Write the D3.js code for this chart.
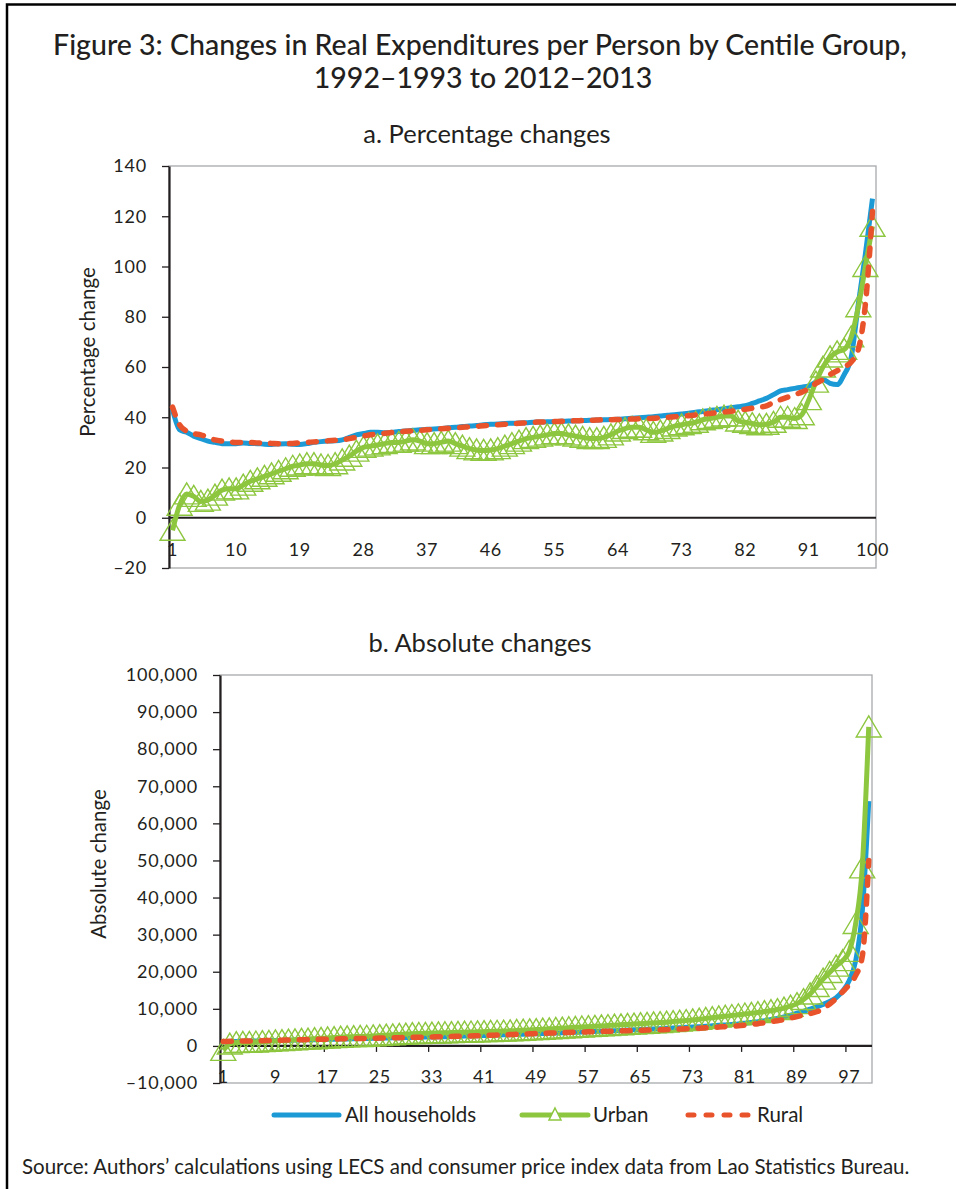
<!DOCTYPE html>
<html>
<head>
<meta charset="utf-8">
<script src="https://cdn.jsdelivr.net/npm/d3@7"></script>
<style>
  body { margin: 0; background: #fff; }
  svg text { font-family: Lato, "Open Sans", sans-serif; fill: #231f20; }
</style>
</head>
<body>
<div id="chart"></div>
<script>
// centile groups 1..100
var centiles = d3.range(1, 101);

// a. Percentage changes
var pctAll = [43,35,34,32.5,31.5,30.5,30,29.5,29.5,29.5,
  29.8,29.6,29.5,29.3,29.2,29.4,29.5,29.3,29.2,29.5,
  30,30.3,30.5,30.6,31,32,33,33.5,34,34,
  33.8,34,34.3,34.5,34.8,35,35.2,35.3,35.5,35.8,
  36,36.3,36.5,36.7,37,37.2,37.3,37.5,37.6,37.7,
  37.8,38,38.1,38.2,38.3,38.4,38.5,38.6,38.7,38.8,
  38.9,39,39.1,39.2,39.4,39.6,39.8,40,40.2,40.5,
  40.8,41,41.3,41.6,42,42.3,42.7,43,43.4,43.8,
  44.2,44.6,45.5,46.5,47.5,49,50.5,51,51.5,52,
  52.5,54,55,53.5,53,57,64,85,105,127];
var pctUrban = [-5,5,9.5,8.5,6.5,7,9,11,11.5,11.5,
  13,14.5,15.5,16.5,17.5,18.5,19.5,20.5,21,21.5,
  21.5,21,20.8,21.5,23,24.5,26.5,28,28.5,29,
  29.5,30,30,30.5,31,30.5,29.5,29.5,30,30.5,
  29.5,28.5,27.5,27,26.8,27,27.5,28.5,29.5,30.5,
  31.5,32,32.5,33,33.5,33.5,33,32.5,32,31.5,
  31.5,32,33,34.5,35.5,36,36,35,34,34.5,
  35.5,36.5,37,37.5,38,39,39.5,40,40.5,40.5,
  38.5,38,37.5,37,37.2,38,40,40,39.5,41,
  47,54,60,64,66,67,72,84,100,116];
var pctRural = [44,37,34.5,33.5,33,32,31,30.5,30.2,30,
  30,30,29.8,29.7,29.6,29.5,29.5,29.6,29.8,30,
  30.2,30.4,30.6,30.8,31,31.5,32,32.5,33,33.3,
  33.6,33.9,34.2,34.4,34.6,34.8,35,35.2,35.4,35.6,
  35.8,36,36.2,36.4,36.6,36.8,37,37.2,37.4,37.6,
  37.8,38,38.1,38.2,38.3,38.4,38.5,38.6,38.7,38.8,
  38.9,39,39,39.1,39.2,39.3,39.4,39.5,39.6,39.8,
  40,40.2,40.4,40.6,40.9,41.2,41.5,41.8,42.1,42.4,
  42.8,43.2,43.6,44,44.5,46,47,48,49,50,
  51.5,53.5,55,57,58.5,60,62,67,85,122];

// b. Absolute changes
var absAll = [1100,1150,1200,1250,1290,1330,1370,1410,1450,1490,
  1530,1570,1610,1650,1690,1730,1770,1810,1850,1890,
  1930,1970,2010,2050,2090,2130,2170,2210,2250,2290,
  2330,2370,2410,2450,2500,2550,2600,2650,2700,2750,
  2800,2860,2920,2980,3040,3100,3160,3220,3280,3340,
  3400,3470,3540,3610,3680,3750,3820,3890,3960,4030,
  4100,4180,4260,4340,4420,4500,4580,4660,4740,4820,
  4910,5000,5100,5200,5310,5420,5540,5660,5790,5920,
  6100,6300,6550,6800,7100,7400,7800,8300,8800,9300,
  9900,10500,11200,12000,13000,14800,17600,23000,36000,66000];
var absUrban = [-1200,500,900,950,950,1050,1150,1250,1350,1450,
  1550,1650,1750,1850,1950,2050,2150,2250,2350,2450,
  2500,2550,2600,2700,2800,2900,3000,3100,3200,3300,
  3350,3400,3450,3500,3550,3600,3650,3700,3750,3800,
  3850,3900,3950,4000,4080,4160,4240,4320,4400,4500,
  4600,4700,4800,4900,5000,5100,5200,5300,5400,5500,
  5600,5700,5800,5900,6000,6100,6200,6300,6400,6550,
  6700,6850,7000,7200,7400,7600,7800,8000,8200,8400,
  8600,8800,9000,9250,9500,9800,10200,10700,11400,12500,
  14000,16000,18000,19800,21500,23000,25500,33000,48000,86000];
var absRural = [1200,1240,1280,1320,1350,1390,1420,1460,1500,1550,
  1590,1630,1670,1710,1750,1790,1830,1870,1910,1950,
  1980,2010,2040,2070,2100,2140,2180,2220,2260,2300,
  2340,2380,2420,2460,2500,2550,2600,2650,2700,2750,
  2810,2870,2930,2990,3050,3120,3190,3260,3330,3400,
  3460,3520,3580,3640,3700,3760,3810,3860,3910,3960,
  4010,4060,4110,4160,4210,4260,4310,4360,4410,4460,
  4540,4620,4700,4790,4880,4980,5080,5190,5300,5420,
  5600,5800,6000,6250,6500,6800,7100,7500,7900,8300,
  8700,9200,10000,11300,12800,14600,16500,19000,24000,50000];

// ticks
var pctTicks = [-20,0,20,40,60,80,100,120,140];
var pctTickLabels = ["–20","0","20","40","60","80","100","120","140"];
var absTicks = [-10000,0,10000,20000,30000,40000,50000,60000,70000,80000,90000,100000];
var absTickLabels = ["–10,000","0","10,000","20,000","30,000","40,000","50,000","60,000","70,000","80,000","90,000","100,000"];
var pctXLabels = [1,10,19,28,37,46,55,64,73,82,91,100];
var absXLabels = [1,9,17,25,33,41,49,57,65,73,81,89,97];

var seriesNames = ["All households","Urban","Rural"];
var colors = {all: "#1b9ad6", urban: "#8dc63f", rural: "#e9532b"};

var width = 956, height = 1189;

var svg = d3.select("#chart")
  .append("svg")
  .attr("width", width)
  .attr("height", height);

// frame
svg.append("path")
  .attr("d", "M7," + height + "V4.5H" + width)
  .attr("fill", "none")
  .attr("stroke", "#000")
  .attr("stroke-width", 2.5);

// titles
svg.append("text")
  .attr("x", 480).attr("y", 55)
  .attr("text-anchor", "middle")
  .attr("font-size", 28.5).attr("font-weight", 500)
  .text("Figure 3: Changes in Real Expenditures per Person by Centile Group,");
svg.append("text")
  .attr("x", 483).attr("y", 88)
  .attr("text-anchor", "middle")
  .attr("font-size", 28.5).attr("font-weight", 500)
  .text("1992–1993 to 2012–2013");

var tri = "M0,-11L12.5,10L-12.5,10Z";

function panel(cfg) {
  var x = d3.scalePoint().domain(centiles).range([cfg.left, cfg.right]).padding(0.5);
  var y = d3.scaleLinear().domain(cfg.yDomain).range([cfg.bottom, cfg.top]);

  svg.append("text")
    .attr("x", cfg.titleX).attr("y", cfg.titleY)
    .attr("text-anchor", "middle")
    .attr("font-size", 25.5)
    .text(cfg.title);

  // plot border
  svg.append("rect")
    .attr("x", cfg.left).attr("y", cfg.top)
    .attr("width", cfg.right - cfg.left)
    .attr("height", cfg.bottom - cfg.top)
    .attr("fill", "none")
    .attr("stroke", "#a7a9ac")
    .attr("stroke-width", 1.3);

  // x axis at zero
  var y0 = y(0);
  svg.append("line")
    .attr("x1", cfg.left).attr("x2", cfg.right)
    .attr("y1", y0).attr("y2", y0)
    .attr("stroke", "#231f20").attr("stroke-width", 2.2);

  if (cfg.xTicks) {
    svg.append("g").selectAll("line")
      .data(cfg.xLabels)
      .join("line")
      .attr("x1", function(d) { return x(d) - x.step() / 2; })
      .attr("x2", function(d) { return x(d) - x.step() / 2; })
      .attr("y1", y0).attr("y2", y0 + 6)
      .attr("stroke", "#231f20").attr("stroke-width", 1.3);
  }

  svg.append("g").selectAll("text")
    .data(cfg.xLabels)
    .join("text")
    .attr("x", function(d) { return x(d); })
    .attr("y", y0 + cfg.labelOffset)
    .attr("dy", "0.35em")
    .attr("text-anchor", "middle")
    .attr("font-size", 18)
    .attr("letter-spacing", 0.6)
    .text(function(d) { return d; });

  // y axis
  var yAxis = svg.append("g")
    .attr("transform", "translate(" + cfg.left + ",0)")
    .call(d3.axisLeft(y)
      .tickValues(cfg.ticks)
      .tickFormat(function(d, i) { return cfg.tickLabels[i]; })
      .tickSize(7).tickSizeOuter(0).tickPadding(15));
  yAxis.select(".domain").attr("stroke", "#231f20").attr("stroke-width", 2.2);
  yAxis.selectAll(".tick line").attr("stroke", "#231f20").attr("stroke-width", 1.3);
  yAxis.selectAll(".tick text")
    .attr("font-size", 18)
    .attr("letter-spacing", 0.8)
    .attr("font-family", "Lato, 'Open Sans', sans-serif")
    .attr("fill", "#231f20");

  svg.append("text")
    .attr("transform", "rotate(-90)")
    .attr("x", -cfg.yLabelY).attr("y", cfg.yLabelX)
    .attr("dy", "0.35em")
    .attr("text-anchor", "middle")
    .attr("font-size", 20.5)
    .text(cfg.yLabel);

  var line = d3.line()
    .x(function(d, i) { return x(centiles[i]); })
    .y(function(d) { return y(d); })
    .curve(d3.curveMonotoneX);

  svg.append("path")
    .datum(cfg.all)
    .attr("d", line)
    .attr("fill", "none")
    .attr("stroke", colors.all)
    .attr("stroke-width", 5)
    .attr("stroke-linejoin", "round");

  svg.append("path")
    .datum(cfg.urban)
    .attr("d", line)
    .attr("fill", "none")
    .attr("stroke", colors.urban)
    .attr("stroke-width", 5)
    .attr("stroke-linejoin", "round");

  svg.append("g").selectAll("path")
    .data(cfg.urban)
    .join("path")
    .attr("transform", function(d, i) { return "translate(" + x(centiles[i]) + "," + y(d) + ")"; })
    .attr("d", tri)
    .attr("fill", "none")
    .attr("stroke", colors.urban)
    .attr("stroke-width", 1.4);

  svg.append("path")
    .datum(cfg.rural)
    .attr("d", line)
    .attr("fill", "none")
    .attr("stroke", colors.rural)
    .attr("stroke-width", 5.5)
    .attr("stroke-linecap", "round")
    .attr("stroke-dasharray", "8,11");
}

panel({
  title: "a. Percentage changes", titleX: 487, titleY: 143,
  left: 169, right: 876, top: 166, bottom: 568,
  yDomain: [-20, 140], ticks: pctTicks, tickLabels: pctTickLabels,
  xLabels: pctXLabels, xTicks: false, labelOffset: 32,
  yLabel: "Percentage change", yLabelX: 88, yLabelY: 352,
  all: pctAll, urban: pctUrban, rural: pctRural
});

panel({
  title: "b. Absolute changes", titleX: 480, titleY: 652,
  left: 220, right: 872, top: 675, bottom: 1083,
  yDomain: [-10000, 100000], ticks: absTicks, tickLabels: absTickLabels,
  xLabels: absXLabels, xTicks: true, labelOffset: 31,
  yLabel: "Absolute change", yLabelX: 99, yLabelY: 864,
  all: absAll, urban: absUrban, rural: absRural
});

// legend
var legendY = 1115;
var legendItems = [
  {name: seriesNames[0], x1: 274, x2: 339, tx: 345, key: "all"},
  {name: seriesNames[1], x1: 522, x2: 588, tx: 593, key: "urban"},
  {name: seriesNames[2], x1: 688, x2: 752, tx: 757, key: "rural"}
];
var lg = svg.append("g");
legendItems.forEach(function(it) {
  var l = lg.append("line")
    .attr("x1", it.x1).attr("x2", it.x2)
    .attr("y1", legendY).attr("y2", legendY)
    .attr("stroke", colors[it.key])
    .attr("stroke-width", 5)
    .attr("stroke-linecap", "round");
  if (it.key === "rural") l.attr("stroke-dasharray", "6,12").attr("stroke-width", 5);
  if (it.key === "urban") {
    lg.append("path")
      .attr("transform", "translate(" + ((it.x1 + it.x2) / 2) + "," + legendY + ")")
      .attr("d", "M0,-7L6,5L-6,5Z")
      .attr("fill", "#fff")
      .attr("stroke", colors.urban)
      .attr("stroke-width", 1.5);
  }
  lg.append("text")
    .attr("x", it.tx).attr("y", legendY)
    .attr("dy", "0.35em")
    .attr("font-size", 20.5)
    .text(it.name);
});

// source
svg.append("text")
  .attr("x", 22).attr("y", 1174)
  .attr("font-size", 20.5)
  .text("Source: Authors’ calculations using LECS and consumer price index data from Lao Statistics Bureau.");
</script>
</body>
</html>
